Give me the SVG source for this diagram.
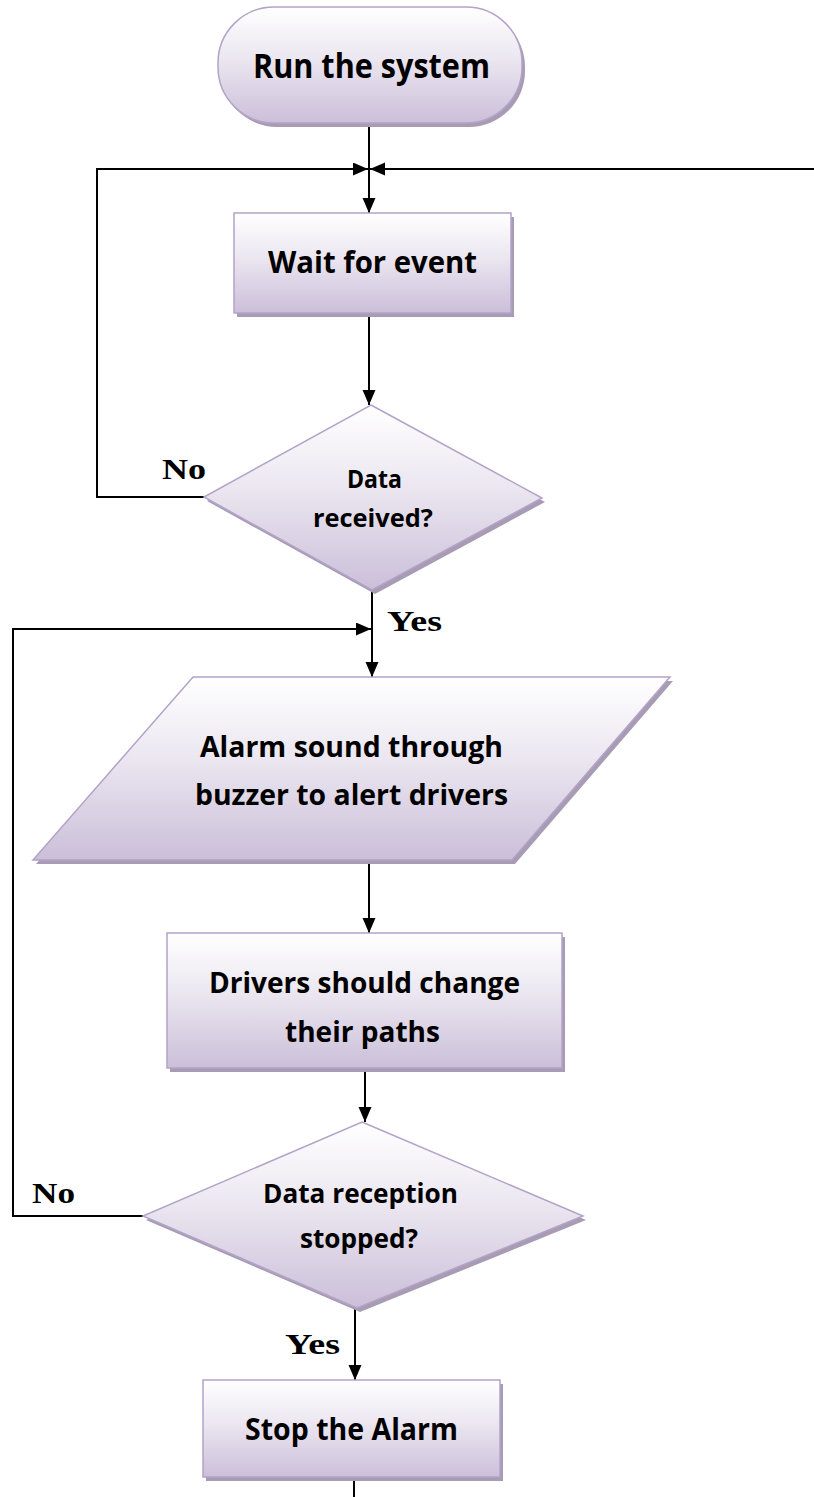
<svg xmlns="http://www.w3.org/2000/svg" width="814" height="1497" viewBox="0 0 814 1497">
<defs>
<linearGradient id="g" x1="0" y1="0" x2="0" y2="1">
<stop offset="0" stop-color="#ffffff"/>
<stop offset="0.45" stop-color="#ebe6f0"/>
<stop offset="1" stop-color="#cbbfd9"/>
</linearGradient>
<marker id="arr" markerWidth="16" markerHeight="14" refX="15" refY="6.5" orient="auto" markerUnits="userSpaceOnUse">
<path d="M0,0 L15,6.5 L0,13 z" fill="#000"/>
</marker>
<style>
.shape{fill:url(#g);stroke:#b3a3c8;stroke-width:1.5}
.shadow{fill:#a79cb4}
.t{font-family:"Open Sans","Liberation Sans",sans-serif;font-weight:bold;fill:#000;text-anchor:middle}
.yn{font-family:"Liberation Serif","Times New Roman",serif;font-weight:bold;fill:#000;font-size:30px}
.c{fill:none;stroke:#000;stroke-width:2}
.ca{fill:none;stroke:#000;stroke-width:2;marker-end:url(#arr)}
</style>
</defs>
<rect width="814" height="1497" fill="#ffffff"/>

<g id="connectors">
<line class="c" x1="369" y1="123" x2="369" y2="169"/>
<line class="ca" x1="369" y1="169" x2="369" y2="213"/>
<path class="ca" d="M204,497 H97 V169 H368"/>
<path class="ca" d="M814,169 H370"/>
<line class="ca" x1="369" y1="313" x2="369" y2="405"/>
<line class="ca" x1="372" y1="590" x2="372" y2="677"/>
<path class="ca" d="M143,1216 H13 V629 H371"/>
<line class="ca" x1="369" y1="860" x2="369" y2="933"/>
<line class="ca" x1="365" y1="1068" x2="365" y2="1122"/>
<line class="ca" x1="355" y1="1308" x2="355" y2="1380"/>
<line class="c" x1="354" y1="1477" x2="354" y2="1497"/>
</g>

<g id="labels">
<text class="yn" x="162" y="479" textLength="44" lengthAdjust="spacingAndGlyphs">No</text>
<text class="yn" x="387" y="631" textLength="55" lengthAdjust="spacingAndGlyphs">Yes</text>
<text class="yn" x="32" y="1203" textLength="43" lengthAdjust="spacingAndGlyphs">No</text>
<text class="yn" x="285" y="1354" textLength="55" lengthAdjust="spacingAndGlyphs">Yes</text>
</g>

<g id="start">
<rect class="shadow" x="221" y="11" width="304" height="116" rx="56"/>
<rect class="shape" x="218" y="7" width="304" height="116" rx="56"/>
<text class="t" x="371.5" y="78" font-size="34" textLength="237" lengthAdjust="spacingAndGlyphs">Run the system</text>
</g>

<g id="wait">
<rect class="shadow" x="237" y="217" width="277" height="100"/>
<rect class="shape" x="234" y="213" width="277" height="100"/>
<text class="t" x="372.5" y="273" font-size="31" textLength="209" lengthAdjust="spacingAndGlyphs">Wait for event</text>
</g>

<g id="decision1">
<polygon class="shadow" points="374,409 545,502 375,594 207,501"/>
<polygon class="shape" points="371,405 542,498 372,590 204,497"/>
<text class="t" x="374.5" y="488" font-size="25" textLength="55" lengthAdjust="spacingAndGlyphs">Data</text>
<text class="t" x="373" y="527" font-size="25" textLength="120" lengthAdjust="spacingAndGlyphs">received?</text>
</g>

<g id="alarm">
<polygon class="shadow" points="196,681 673,681 515,864 36,864"/>
<polygon class="shape" points="193,677 670,677 512,860 33,860"/>
<text class="t" x="351.5" y="757" font-size="29" textLength="303" lengthAdjust="spacingAndGlyphs">Alarm sound through</text>
<text class="t" x="351.5" y="805" font-size="29" textLength="313" lengthAdjust="spacingAndGlyphs">buzzer to alert drivers</text>
</g>

<g id="drivers">
<rect class="shadow" x="170" y="937" width="395" height="135"/>
<rect class="shape" x="167" y="933" width="395" height="135"/>
<text class="t" x="364.5" y="993" font-size="29" textLength="311" lengthAdjust="spacingAndGlyphs">Drivers should change</text>
<text class="t" x="362.5" y="1042" font-size="29" textLength="155" lengthAdjust="spacingAndGlyphs">their paths</text>
</g>

<g id="decision2">
<polygon class="shadow" points="365,1126 586,1220 360,1312 146,1220"/>
<polygon class="shape" points="362,1122 583,1216 357,1308 143,1216"/>
<text class="t" x="360.5" y="1203" font-size="26" textLength="195" lengthAdjust="spacingAndGlyphs">Data reception</text>
<text class="t" x="359" y="1248" font-size="26" textLength="118" lengthAdjust="spacingAndGlyphs">stopped?</text>
</g>

<g id="stop">
<rect class="shadow" x="206" y="1384" width="297" height="97"/>
<rect class="shape" x="203" y="1380" width="297" height="97"/>
<text class="t" x="351.5" y="1440" font-size="31" textLength="213" lengthAdjust="spacingAndGlyphs">Stop the Alarm</text>
</g>
</svg>
